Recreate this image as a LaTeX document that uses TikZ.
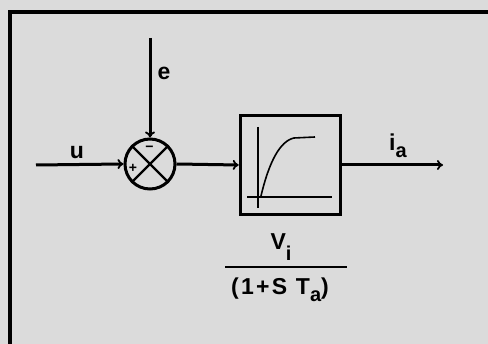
\documentclass[tikz,border=0pt]{standalone}
\usepackage{fontspec}
\setmainfont{Liberation Sans}
\usetikzlibrary{arrows.meta}
\newcommand{\lowsub}[2][0.32em]{\raisebox{-#1}{\fontsize{20}{22}\selectfont #2}}
\begin{document}
\begin{tikzpicture}[x=1pt,y=-1pt,
  lbl/.style={font=\fontsize{23}{25}\selectfont\bfseries\addfontfeature{LetterSpace=10}, inner sep=0},
  sgn/.style={font=\fontsize{14}{15}\selectfont\bfseries, inner sep=0},
  wire/.style={line width=3pt, -{To[length=6pt,width=10pt,line width=1.8pt]}},
  thin/.style={line width=1.6pt}]
\fill[gray!28] (0,0) rectangle (488,344);
\useasboundingbox (0,0) rectangle (488,344);
\draw[line width=3.2pt] (10,344) -- (10,12) -- (488,12);
% summing junction
\node[circle, draw, line width=3pt, minimum size=50pt, inner sep=0] (sum) at (150,164) {};
\draw[line width=2.2pt] (sum.north west) -- (sum.south east);
\draw[line width=2.2pt] (sum.north east) -- (sum.south west);
\node[sgn] (minus) at (149.5,148.5) {\textminus};
\node[sgn] (plus) at (133,168) {+};
% block
\node[draw, line width=3.6pt, minimum width=100pt, minimum height=99pt, inner sep=0] (blk) at (290.5,165) {};
\coordinate (ya0) at (258,127);
\coordinate (ya1) at (258,208);
\coordinate (xa0) at (247,197);
\coordinate (xa1) at (332,197);
\draw[thin] (ya0) -- (ya1);
\draw[thin] (xa0) -- (xa1);
\coordinate (c0) at (261,196);
\coordinate (c1) at (294,138);
\coordinate (c2) at (315,137);
\draw[thin] (c0) .. controls (269,162) and (280,141) .. (c1) -- (c2);
% wires
\coordinate (ein) at (150,38);
\coordinate (uin) at (36,165);
\coordinate (out) at (443,165);
\draw[wire] (ein) -- (sum.north);
\draw[wire] (uin) -- (sum.west);
\draw[wire] (sum.east) -- (blk.west);
\draw[wire] (blk.east) -- (out);
% labels
\node[lbl] (e) at (164,73) {e};
\node[lbl] (u) at (77,153) {u};
\node[lbl] (ia) at (398,146) {i\lowsub{a}};
\node[lbl] (vi) at (281,247) {V\lowsub[0.45em]{i}};
\coordinate (f0) at (225,267);
\coordinate (f1) at (347,267);
\draw[line width=2.2pt] (f0) -- (f1);
\node[lbl] (den) at (280,290) {(1+S T\lowsub{a})};
\end{tikzpicture}
\end{document}
